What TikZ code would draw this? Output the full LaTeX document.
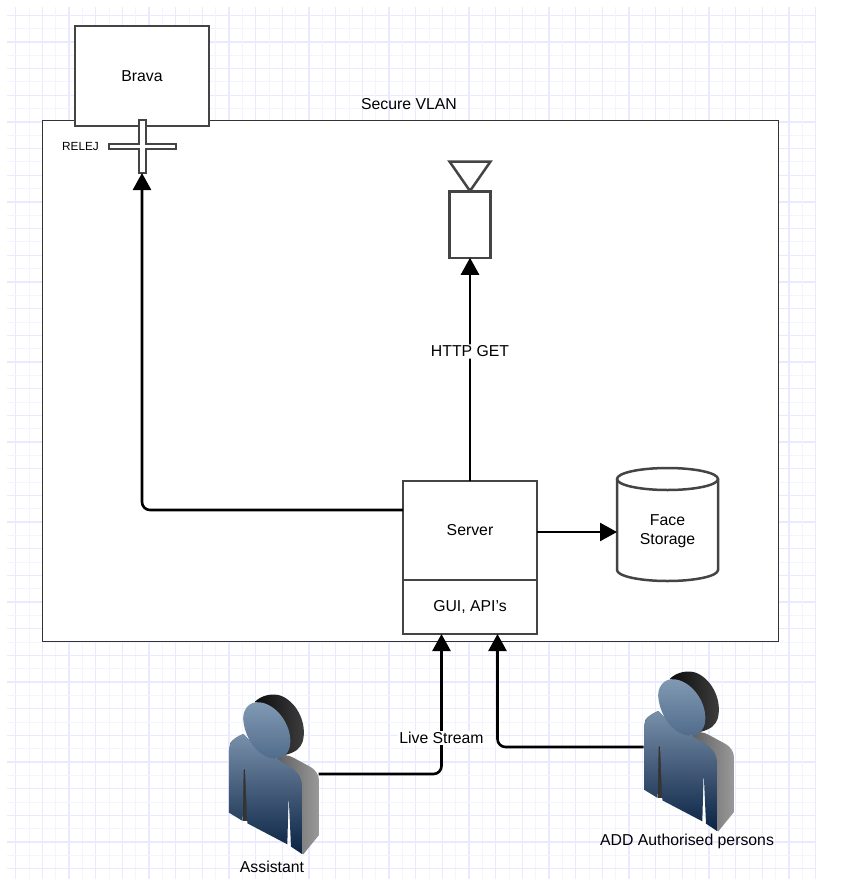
\documentclass[tikz,border=0pt]{standalone}
\usepackage{fontspec}
\setmainfont{Liberation Sans}
\usetikzlibrary{arrows.meta,shapes.geometric}
\definecolor{edgegray}{HTML}{444444}
\definecolor{gridmajor}{HTML}{E9E9FF}
\definecolor{gridminor}{HTML}{F4F4FF}
\definecolor{bodytop}{HTML}{7890AA}
\definecolor{bodybottom}{HTML}{0A2243}
\definecolor{headtop}{HTML}{829AB4}
\definecolor{headbottom}{HTML}{4F6A8A}
\tikzset{
  box/.style={draw=edgegray,line width=2.5pt,fill=white,inner sep=0pt,outer sep=0pt,font=\fontsize{15.8}{18}\selectfont,align=center},
  conn/.style={draw=black,line width=2.6pt,rounded corners=8pt,-{Triangle[length=17pt,width=18pt]}},
  lbl/.style={font=\fontsize{15.8}{18}\selectfont,inner sep=1.5pt},
  ghost/.style={inner sep=0pt,outer sep=0pt}
}
\newcommand{\personshape}[2]{%
  \begin{scope}[shift={(#1,#2)},x=0.3333pt,y=-0.3333pt]
    % head back
    \path[left color=black!95,right color=black!75] (135,125) .. controls (155,105) and (190,98) .. (215,108)
      .. controls (265,130) and (292,195) .. (278,245) .. controls (272,265) and (255,278) .. (225,285) -- (180,200) -- cycle;
    % shoulder
    \path[fill=black!65] (60,250) .. controls (68,238) and (85,228) .. (100,222) -- (135,258) -- (100,300) -- cycle;
    % body side
    \path[left color=black!80,right color=black!40] (200,295) .. controls (215,280) and (235,285) .. (250,293)
      -- (300,320) .. controls (320,332) and (327,345) .. (327,365) -- (327,525) -- (280,583) -- (270,578) -- (240,400) -- (100,325) -- (100,483) -- (200,480) -- cycle;
    % body front
    \path[top color=bodytop,bottom color=bodybottom]
      (135,258) -- (100,222) .. controls (75,232) and (57,245) .. (57,270) -- (57,458) -- (98,483) -- (101,330) -- (105,325) -- (112,490)
      -- (232,553) -- (236,405) -- (243,560) -- (276,582) -- (276,380) .. controls (276,350) and (262,335) .. (240,320) -- (198,295) -- cycle;
    % head front
    \path[top color=headtop,bottom color=headbottom]
      (101,190) .. controls (93,150) and (118,122) .. (150,127) .. controls (198,133) and (242,190) .. (241,245)
      .. controls (241,285) and (212,302) .. (180,294) .. controls (138,282) and (108,235) .. (101,190) -- cycle;
  \end{scope}}
\begin{document}
\begin{tikzpicture}[x=1pt,y=-1pt]
\useasboundingbox (0,0) rectangle (842,879);
\fill[white] (0,0) rectangle (842,879);
% grid
\foreach \i in {0,...,32} {
  \pgfmathsetmacro{\gx}{15.7+\i*26.67}
  \pgfmathsetmacro{\gy}{15.3+\i*26.67}
  \pgfmathsetmacro{\hx}{\gx+13.33}
  \pgfmathsetmacro{\hy}{\gy+13.33}
  \draw[gridminor,line width=1pt] (\hx,7) -- (\hx,879);
  \draw[gridminor,line width=1pt] (7,\hy) -- (815,\hy);
  \draw[gridmajor,line width=1.4pt] (\gx,7) -- (\gx,879);
  \draw[gridmajor,line width=1.4pt] (7,\gy) -- (815,\gy);
}
\fill[white] (815.5,0) rectangle (842,879);
\fill[white] (0,873) rectangle (6.5,879);
% VLAN frame
\node[draw=black!80,line width=1pt,fill=white,minimum width=736pt,minimum height=521pt,inner sep=0pt,outer sep=0pt] (vlan) at (410,380.5) {};
\node[lbl] (vlantext) at (409,104) {Secure VLAN};
% Brava
\node[box,minimum width=134pt,minimum height=100pt] (brava) at (142,76) {Brava};
% relay
\node[ghost,minimum width=68pt,minimum height=54pt] (relay) at (142,146) {};
\draw[edgegray,line width=2pt,fill=white] (138.5,119.5) -- (145.5,119.5) -- (145.5,143.5) -- (176,143.5) -- (176,149) -- (145.5,149) -- (145.5,173) -- (138.5,173) -- (138.5,149) -- (108.5,149) -- (108.5,143.5) -- (138.5,143.5) -- cycle;
\node[font=\fontsize{11.8}{13}\selectfont,inner sep=0pt] (relejtext) at (80.5,146) {RELEJ};
% camera
\node[box,minimum width=41pt,minimum height=66.5pt] (camera) at (470,224.5) {};
\node[draw=edgegray,line width=2.5pt,isosceles triangle,shape border rotate=-90,isosceles triangle stretches,minimum width=41pt,minimum height=29.5pt,inner sep=0pt,outer sep=0pt,anchor=apex] (lens) at (470,191) {};
% server
\node[box,minimum width=134pt,minimum height=99pt] (server) at (470,530.5) {Server};
\node[box,minimum width=134pt,minimum height=54pt] (gui) at (470,607) {GUI, API's};
% storage
\draw[edgegray,line width=2.5pt,fill=white] (617,479) arc[x radius=50.5,y radius=11,start angle=-180,end angle=0] -- (718,570) arc[x radius=50.5,y radius=11,start angle=0,end angle=180] -- cycle;
\draw[edgegray,line width=2.5pt] (617,479) arc[x radius=50.5,y radius=11,start angle=180,end angle=0];
\node[ghost,lbl,minimum width=101pt,align=center] (storage) at (667.5,531) {Face\\[1pt]Storage};
% persons
\personshape{210}{660}
\personshape{625}{637}
\node[ghost,minimum width=90pt,minimum height=162pt] (assistant) at (273.5,774) {};
\node[ghost,minimum width=90pt,minimum height=162pt] (authp) at (688.5,751) {};
\node[lbl] (assistanttext) at (272,867) {Assistant};
\node[lbl] (authtext) at (687,841) {ADD Authorised persons};
% connectors
\draw[conn] (server.north) -- node[lbl,fill=white,pos=0.58] (httplabel) {HTTP GET} (camera.south);
\draw[conn] ([yshift=20.5pt]server.west) -| (relay.south);
\draw[conn] ([yshift=-1.5pt]server.east) -- ([yshift=-1.5pt]server.east -| storage.west);
\draw[conn] (assistant.east) -| ([xshift=-28.5pt]gui.south);
\draw[conn] ([yshift=4pt]authp.west) -| ([xshift=27.5pt]gui.south);
\node[lbl,fill=white] (livelabel) at (441.5,738) {Live Stream};
\end{tikzpicture}
\end{document}
